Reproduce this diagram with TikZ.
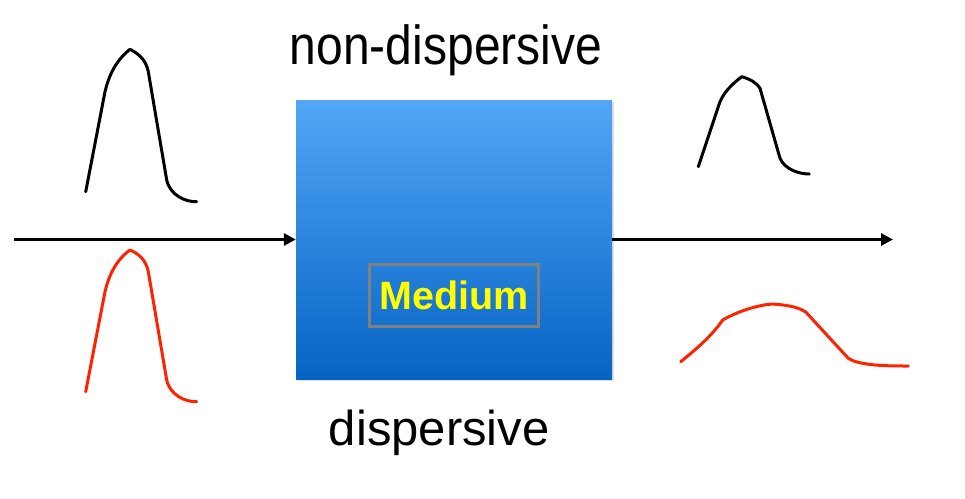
\documentclass[tikz,border=0pt]{standalone}
\usepackage{fontspec}
\setmainfont{Liberation Sans}
\usetikzlibrary{arrows.meta,shadows}
\definecolor{boxtop}{RGB}{82,166,246}
\definecolor{boxbot}{RGB}{6,100,196}
\definecolor{pulsered}{RGB}{255,34,0}
\definecolor{framegray}{RGB}{128,128,128}
\definecolor{medyellow}{RGB}{255,255,0}
\tikzset{
  axisarrow/.style={line width=3.6pt, -{Triangle[length=12pt,width=12pt]}},
  pulse/.style={line width=3pt, line join=round, line cap=round},
  lbl/.style={inner sep=0pt, anchor=base},
}
\begin{document}
\begin{tikzpicture}[x=1pt,y=-1pt]
\useasboundingbox (0,0) rectangle (965,498);
% medium box
\node[minimum width=316pt, minimum height=279pt, inner sep=0pt,
      top color=boxtop, bottom color=boxbot,
      drop shadow={opacity=0.25, shadow xshift=1.5pt, shadow yshift=-2pt}] (box) at (454,239.5) {};
\node[draw=framegray, line width=3pt, minimum width=169.3pt, minimum height=62pt, inner sep=0pt,
      font=\fontsize{39.5}{39.5}\selectfont\bfseries, text=medyellow] (med) at (453.8,295.5) {Medium};
% labels
\node[lbl] (nd) at (446,64.3) {\fontsize{55}{55}\selectfont\scalebox{0.873}[1]{non-dispersive}};
\node[lbl] (d) at (439.2,445) {\fontsize{49}{49}\selectfont dispersive};
% arrows
\coordinate (ls) at (14,239.5);
\coordinate (re) at (893,239.5);
\draw[axisarrow] (ls) -- (box.west);
\draw[axisarrow] (box.east) -- (re);
% input pulses
\draw[pulse] (85.7,191.7) -- (105,91.7) .. controls (110,70) and (120,57) .. (130,49.3)
  .. controls (139,54) and (146,60) .. (148.3,71.7) -- (166.7,180)
  .. controls (170,195) and (185,202) .. (196.7,201.7);
\draw[pulse, pulsered] (85.7,391.7) -- (105,291.7) .. controls (110,270) and (120,257) .. (130,250)
  .. controls (139,254) and (146,260) .. (148.3,271.7) -- (166.7,380)
  .. controls (170,395) and (185,402) .. (196.7,401.7);
% output pulses
\draw[pulse] (698.3,166.7) -- (720,101.7) .. controls (725,90) and (735,82) .. (741.7,76.7)
  .. controls (750,79) and (757,83) .. (760,88.3) -- (780,158.3)
  .. controls (785,170) and (800,174) .. (809.3,174);
\draw[pulse, pulsered] (680.7,361.7) .. controls (695,350) and (710,338) .. (722.7,320)
  .. controls (740,310) and (760,305) .. (771.7,304)
  .. controls (790,305) and (800,308) .. (806,312.3) -- (848.3,358.3)
  .. controls (860,366) and (890,366) .. (908.3,366);
\end{tikzpicture}
\end{document}
